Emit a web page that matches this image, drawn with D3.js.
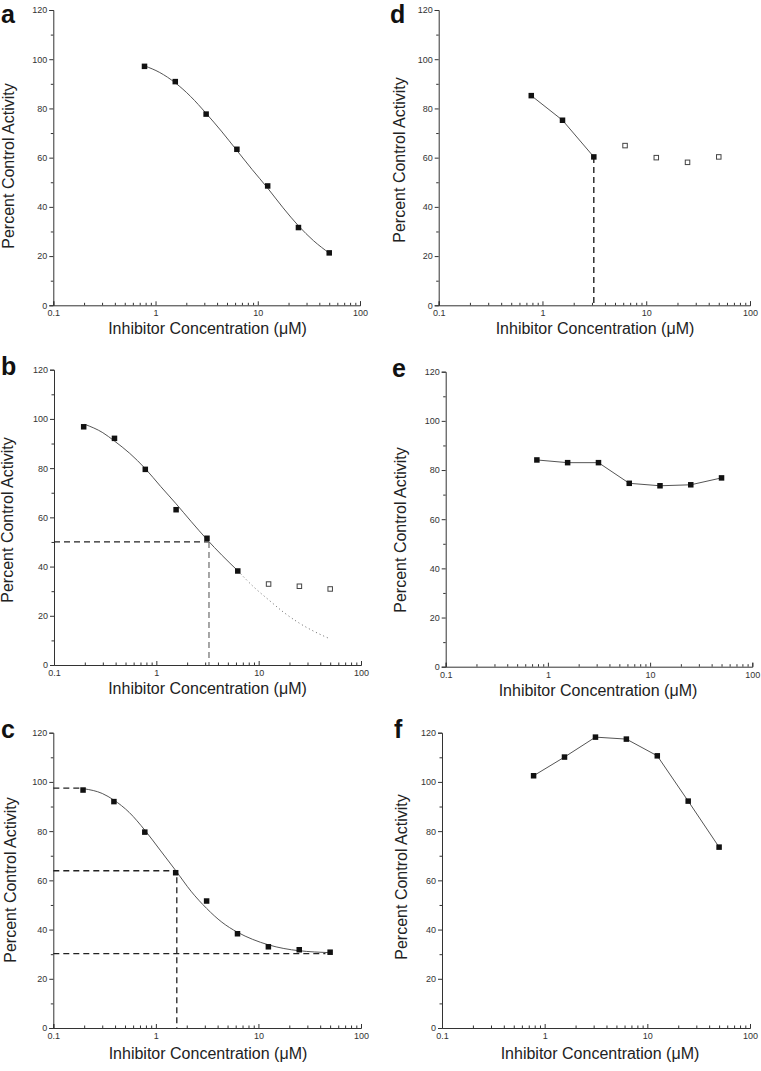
<!DOCTYPE html>
<html>
<head>
<meta charset="utf-8">
<script src="https://cdn.jsdelivr.net/npm/d3@7"></script>
<style>
  html, body { margin: 0; padding: 0; background: #fff; }
  svg { display: block; }
  text { font-family: "Liberation Sans", Arial, sans-serif; }
</style>
</head>
<body>
<svg id="chart" width="761" height="1071"></svg>
<script>
// ---------------- DATA ----------------
const xTickValues = [0.1, 1, 10, 100];
const xTickLabels = ["0.1", "1", "10", "100"];
const xMinorTicks = [0.2,0.3,0.4,0.5,0.6,0.7,0.8,0.9,2,3,4,5,6,7,8,9,20,30,40,50,60,70,80,90];
const yTickValues = [0, 20, 40, 60, 80, 100, 120];
const yMinorTicks = [10, 30, 50, 70, 90, 110];
const xTitle = "Inhibitor Concentration (\u03BCM)";
const yTitle = "Percent Control Activity";

// concentrations
const concHigh = [0.78, 1.56, 3.125, 6.25, 12.5, 25, 50];
const concLow = [0.195, 0.39, 0.78, 1.56, 3.125, 6.25, 12.5, 25, 50];

// panel a
const aValues = [97.1, 90.9, 77.7, 63.4, 48.5, 31.6, 21.3];
const aFitConc = [0.78, 1.1, 1.56, 2.2, 3.125, 4.4, 6.25, 8.8, 12.5, 17.7, 25, 35, 50];
const aFitValues = [97.3, 94.6, 90.4, 84.9, 78.0, 70.8, 62.9, 55.2, 47.6, 39.6, 32.3, 26.3, 21.2];

// panel b
const bConcFilled = [0.195, 0.39, 0.78, 1.56, 3.125, 6.25];
const bValuesFilled = [96.8, 92.1, 79.5, 63.1, 51.5, 38.2];
const bConcOpen = [12.5, 25, 50];
const bValuesOpen = [32.9, 32.0, 30.9];
const bFitConc = [0.2, 0.3, 0.39, 0.55, 0.78, 1.1, 1.56, 2.2, 3.125, 4.4, 6.25];
const bFitValues = [97.8, 94.4, 91.0, 86.0, 79.8, 72.6, 65.5, 58.2, 51.0, 44.5, 38.3];
const bExtConc = [6.25, 8.8, 12.5, 17.7, 25, 35, 50];
const bExtValues = [38.3, 32.0, 26.5, 21.3, 17.0, 13.6, 10.6];
const bGuideConc = 3.27;
const bGuideValue = 50;

// panel c
const cValues = [96.7, 92.0, 79.6, 63.1, 51.6, 38.3, 33.0, 31.8, 30.8];
const cFitConc = [0.2, 0.3, 0.39, 0.55, 0.78, 1.1, 1.56, 2.2, 3.125, 4.4, 6.25, 8.8, 12.5, 17.7, 25, 35, 50];
const cFitValues = [97.2, 95.3, 92.6, 87.6, 80.4, 72.3, 64.0, 55.6, 48.6, 43.0, 38.9, 36.0, 33.8, 32.3, 31.4, 30.9, 30.6];
const cTopValue = 97.5;
const cMidValue = 63.9;
const cMidConc = 1.6;
const cBottomValue = 30.2;
const cTopEndConc = 0.19;
const cBottomEndConc = 45;

// panel d
const dConcFilled = [0.78, 1.56, 3.125];
const dValuesFilled = [85.2, 75.2, 60.3];
const dConcOpen = [6.25, 12.5, 25, 50];
const dValuesOpen = [64.9, 60.0, 58.1, 60.3];
const dGuideConc = 3.125;

// panel e
const eValues = [84.1, 83.0, 83.0, 74.6, 73.6, 74.0, 76.8];

// panel f
const fValues = [102.5, 110.1, 118.2, 117.4, 110.6, 92.2, 73.5];

// ---------------- LAYOUT ----------------
const panels = [
  { letter: "a", lx: 1, ly: 23, x0: 53.3, x1: 360, yTop: 10, yBot: 305.3, ytx: 14, yty: 166, xtx: 207.5, xty: 334 },
  { letter: "b", lx: 1, ly: 375, x0: 54, x1: 361, yTop: 369.7, yBot: 665, ytx: 13, yty: 520, xtx: 207.5, xty: 694 },
  { letter: "c", lx: 1, ly: 738, x0: 53.3, x1: 361, yTop: 732.7, yBot: 1028, ytx: 16, yty: 880, xtx: 208, xty: 1059 },
  { letter: "d", lx: 390, ly: 23, x0: 438.7, x1: 750, yTop: 10, yBot: 305.3, ytx: 405, yty: 160, xtx: 595, xty: 334 },
  { letter: "e", lx: 392, ly: 377, x0: 445.7, x1: 752.3, yTop: 371.7, yBot: 666.7, ytx: 406, yty: 530, xtx: 598, xty: 696 },
  { letter: "f", lx: 394, ly: 738, x0: 442, x1: 750, yTop: 732.7, yBot: 1028, ytx: 407, yty: 877, xtx: 600, xty: 1059 }
];

const svg = d3.select("#chart");
const axisColor = "#333";
const lineColor = "#555";

function makePanel(p) {
  const g = svg.append("g");
  const x = d3.scaleLog().domain([0.1, 100]).range([p.x0, p.x1]);
  const y = d3.scaleLinear().domain([0, 120]).range([p.yBot, p.yTop]);

  // y axis
  g.append("g").attr("transform", `translate(${p.x0},0)`)
    .call(d3.axisLeft(y).tickValues(yTickValues).tickSize(4).tickPadding(2).tickFormat(d3.format("d")));
  g.append("g").attr("transform", `translate(${p.x0},0)`)
    .call(d3.axisLeft(y).tickValues(yMinorTicks).tickSize(2.5).tickFormat(""))
    .select(".domain").remove();
  // x axis (ticks inward)
  g.append("g").attr("transform", `translate(0,${p.yBot})`)
    .call(d3.axisBottom(x).tickValues(xTickValues).tickSize(-4).tickPadding(4.5)
      .tickFormat((d, i) => xTickLabels[i]));
  g.append("g").attr("transform", `translate(0,${p.yBot})`)
    .call(d3.axisBottom(x).tickValues(xMinorTicks).tickSize(-2.5).tickFormat(""))
    .select(".domain").remove();

  g.selectAll(".domain").attr("stroke", axisColor).attr("stroke-width", 1);
  g.selectAll(".tick line").attr("stroke", axisColor).attr("stroke-width", 1);
  g.selectAll(".tick text").attr("fill", "#333").attr("font-size", 9)
    .attr("font-family", "'Liberation Sans', Arial, sans-serif");

  // titles
  g.append("text").attr("x", p.xtx).attr("y", p.xty).attr("text-anchor", "middle")
    .attr("font-size", 16).attr("fill", "#222").text(xTitle);
  g.append("text").attr("transform", `translate(${p.ytx},${p.yty}) rotate(-90)`)
    .attr("text-anchor", "middle").attr("font-size", 16).attr("fill", "#222").text(yTitle);
  g.append("text").attr("x", p.lx).attr("y", p.ly).attr("font-size", 25).attr("font-weight", "bold")
    .attr("fill", "#111").text(p.letter);

  return { g, x, y };
}

function curve(ctx, xs, ys, opts) {
  const line = d3.line().x(d => ctx.x(d[0])).y(d => ctx.y(d[1])).curve(opts.curve || d3.curveLinear);
  ctx.g.append("path").datum(xs.map((v, i) => [v, ys[i]]))
    .attr("d", line).attr("fill", "none")
    .attr("stroke", opts.color || lineColor).attr("stroke-width", opts.width || 1)
    .attr("stroke-dasharray", opts.dash || null);
}

function guide(ctx, pts, color, dash) {
  curve(ctx, pts.map(d => d[0]), pts.map(d => d[1]), { color: color || "#222", width: 1.3, dash: dash || "6,4" });
}

function filled(ctx, xs, ys) {
  const s = 5.5;
  ctx.g.append("g").selectAll("rect").data(xs.map((v, i) => [v, ys[i]])).join("rect")
    .attr("x", d => ctx.x(d[0]) - s / 2).attr("y", d => ctx.y(d[1]) - s / 2)
    .attr("width", s).attr("height", s).attr("fill", "#111");
}

function open(ctx, xs, ys) {
  const s = 4.5;
  ctx.g.append("g").selectAll("rect").data(xs.map((v, i) => [v, ys[i]])).join("rect")
    .attr("x", d => ctx.x(d[0]) - s / 2).attr("y", d => ctx.y(d[1]) - s / 2)
    .attr("width", s).attr("height", s).attr("fill", "#fff")
    .attr("stroke", "#444").attr("stroke-width", 1);
}

// ---- panel a
const A = makePanel(panels[0]);
curve(A, aFitConc, aFitValues, { curve: d3.curveMonotoneX });
filled(A, concHigh, aValues);

// ---- panel b
const B = makePanel(panels[1]);
guide(B, [[0.1, bGuideValue], [bGuideConc, bGuideValue]], "#222");
guide(B, [[bGuideConc, bGuideValue], [bGuideConc, 0]], "#777");
curve(B, bFitConc, bFitValues, { curve: d3.curveMonotoneX });
curve(B, bExtConc, bExtValues, { curve: d3.curveMonotoneX, dash: "1,3", color: "#666" });
filled(B, bConcFilled, bValuesFilled);
open(B, bConcOpen, bValuesOpen);

// ---- panel c
const C = makePanel(panels[2]);
guide(C, [[0.1, cTopValue], [cTopEndConc, cTopValue]]);
guide(C, [[0.1, cMidValue], [cMidConc, cMidValue], [cMidConc, 0]]);
guide(C, [[0.1, cBottomValue], [cBottomEndConc, cBottomValue]]);
curve(C, cFitConc, cFitValues, { curve: d3.curveMonotoneX });
filled(C, concLow, cValues);

// ---- panel d
const D = makePanel(panels[3]);
guide(D, [[dGuideConc, dValuesFilled[2]], [dGuideConc, 0]], "#111");
curve(D, dConcFilled, dValuesFilled, {});
filled(D, dConcFilled, dValuesFilled);
open(D, dConcOpen, dValuesOpen);

// ---- panel e
const E = makePanel(panels[4]);
curve(E, concHigh, eValues, {});
filled(E, concHigh, eValues);

// ---- panel f
const F = makePanel(panels[5]);
curve(F, concHigh, fValues, {});
filled(F, concHigh, fValues);
</script>
</body>
</html>
